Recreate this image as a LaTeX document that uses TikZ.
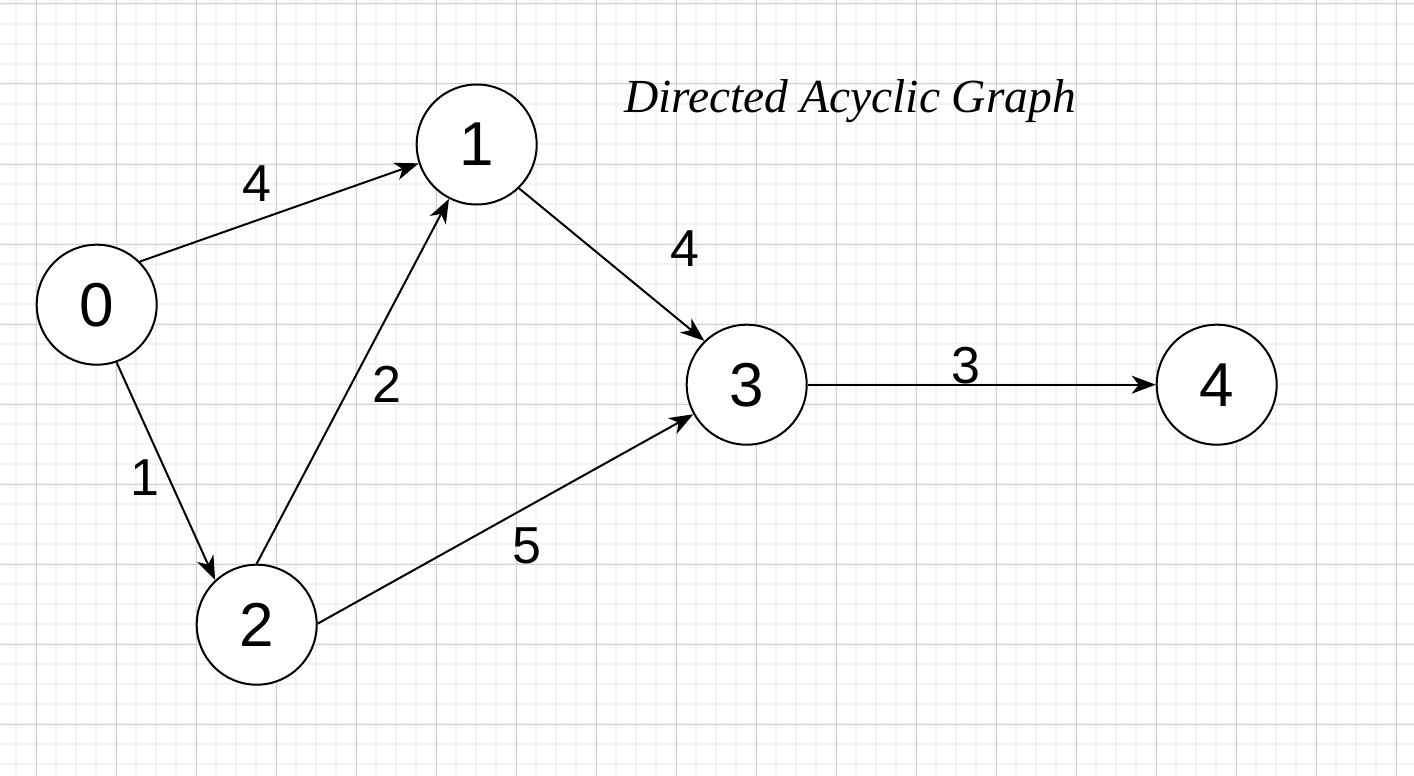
\documentclass[tikz,border=0pt]{standalone}
\usepackage{fontspec}
\setmainfont{Liberation Serif}
\setsansfont{Liberation Sans}
\usetikzlibrary{arrows.meta}
\definecolor{gridminor}{RGB}{243,243,243}
\definecolor{gridmajor}{RGB}{208,208,208}
\begin{document}
\begin{tikzpicture}[x=1pt,y=-1pt,
  vertex/.style={circle,draw=black,line width=2pt,fill=white,minimum size=120pt,inner sep=0pt,
    font=\sffamily\fontsize{62}{62}\selectfont},
  edge/.style={line width=2pt,-{Stealth[length=24pt,width=18pt,inset=7pt]}},
  weight/.style={font=\sffamily\fontsize{52}{52}\selectfont,inner sep=0pt},
  minorline/.style={gridminor,line width=1.5pt},
  majorline/.style={gridmajor,line width=1pt}]
\useasboundingbox (0,0) rectangle (1414,776);
\fill[white] (0,0) rectangle (1414,776);
% background grid: fine lines every 20pt, heavier lines every 80pt
\foreach \gx in {16,36,...,1414} \draw[minorline] (\gx,0) -- (\gx,776);
\foreach \gy in {4,24,...,776} \draw[minorline] (0,\gy) -- (1414,\gy);
\foreach \gx in {36,116,...,1414} \draw[majorline] (\gx,0) -- (\gx,776);
\foreach \gy in {4,84,...,776} \draw[majorline] (0,\gy) -- (1414,\gy);

% title
\node[anchor=base,inner sep=0pt,font=\itshape\fontsize{47.5}{47.5}\selectfont] (title) at (850,113) {Directed Acyclic Graph};

% vertices
\node[vertex] (n0) at (96.7,304.7) {0};
\node[vertex] (n1) at (476.7,144.5) {1};
\node[vertex] (n2) at (256.7,624.7) {2};
\node[vertex] (n3) at (746.7,384.7) {3};
\node[vertex] (n4) at (1216.7,384.7) {4};

% weighted edges
\draw[edge] (n0.45) -- (n1.198.7);
\draw[edge] (n0.289) -- (n2.133.7);
\draw[edge] (n2.90) -- (n1.243);
\draw[edge] (n1.314.7) -- (n3.134);
\draw[edge] (n2.1) -- (n3.209);
\draw[edge] (n3.east) -- (n4.west);

% edge weights
\node[weight] (w01) at (257,184) {4};
\node[weight] (w02) at (145,478) {1};
\node[weight] (w21) at (387,384) {2};
\node[weight] (w13) at (685,249) {4};
\node[weight] (w23) at (527,546) {5};
\node[weight] (w34) at (966,366) {3};
\end{tikzpicture}
\end{document}
